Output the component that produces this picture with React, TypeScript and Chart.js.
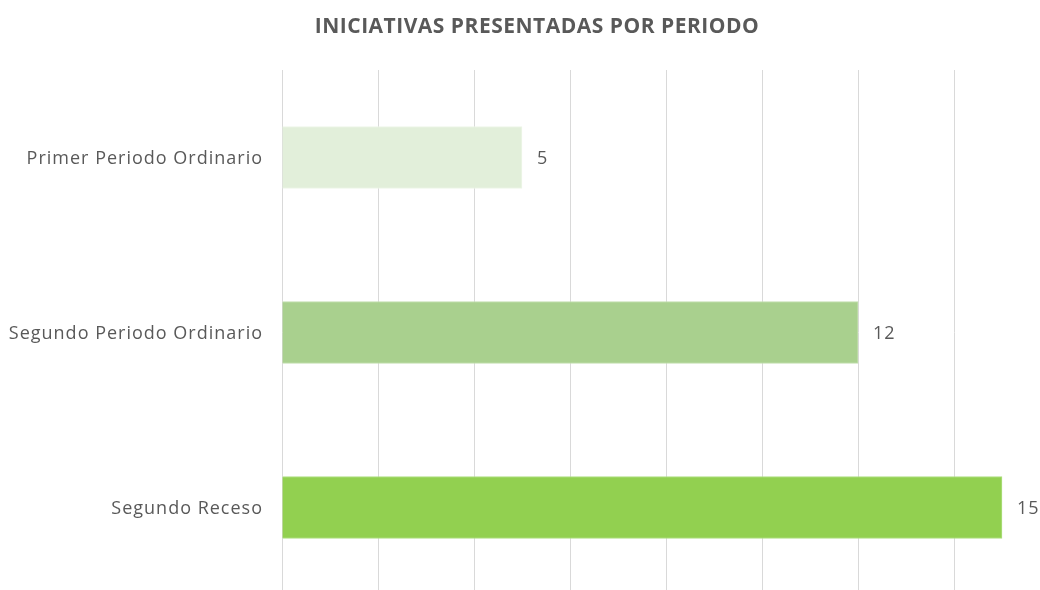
import React, { useEffect, useRef } from "react";
import { Chart, registerables } from "chart.js";

Chart.register(...registerables);

const categories = ["Primer Periodo Ordinario", "Segundo Periodo Ordinario", "Segundo Receso"];
const values = [5, 12, 15];
const barColors = ["#E2EFDA", "#A9D08E", "#92D050"];
const borderColors = ["#EEF6E9", "#C3DFB0", "#B0DF83"];
const chartTitle = "INICIATIVAS PRESENTADAS POR PERIODO";

const FONT = "'Open Sans', 'Noto Sans', sans-serif";
const TEXT = "#595959";

const overlayPlugin = {
  id: "overlay",
  afterDatasetsDraw(chart: any) {
    const ctx = chart.ctx;
    const meta = chart.getDatasetMeta(0);
    const yScale = chart.scales.y;
    ctx.save();
    ctx.fillStyle = TEXT;
    ctx.font = `18px ${FONT}`;
    (ctx as any).letterSpacing = "1px";
    ctx.textBaseline = "middle";
    ctx.textAlign = "left";
    meta.data.forEach((bar: any, i: number) => {
      ctx.fillText(String(values[i]), bar.x + 15, bar.y + 1);
    });
    ctx.textAlign = "right";
    categories.forEach((c, i) => {
      ctx.fillText(c, yScale.right - 19, yScale.getPixelForTick(i) + 1);
    });
    ctx.font = `bold 21px ${FONT}`;
    (ctx as any).letterSpacing = "0.5px";
    ctx.textAlign = "center";
    ctx.fillText(chartTitle, 537, 27);
    ctx.restore();
  },
};

export default function App() {
  const ref = useRef<HTMLCanvasElement | null>(null);
  useEffect(() => {
    if (!ref.current) return;
    const chart = new Chart(ref.current, {
      type: "bar",
      data: {
        labels: categories,
        datasets: [
          {
            data: values,
            backgroundColor: barColors,
            borderColor: borderColors,
            borderWidth: 1,
            barThickness: 62,
          },
        ],
      },
      options: {
        indexAxis: "y",
        animation: false,
        responsive: false,
        maintainAspectRatio: false,
        layout: { padding: { top: 70, bottom: 5, left: 0, right: 0 } },
        plugins: {
          legend: { display: false },
          title: { display: false },
          tooltip: { enabled: false },
        },
        scales: {
          x: {
            min: 0,
            max: (1040 - 282) / 48,
            ticks: { display: false, stepSize: 2, includeBounds: false },
            grid: { color: "#D9D9D9", lineWidth: 1, drawTicks: false },
            border: { display: false },
            afterFit(scale: any) {
              scale.height = 0;
            },
          },
          y: {
            grid: { display: false, drawTicks: false },
            border: { display: false },
            ticks: { display: false },
            afterFit(scale: any) {
              scale.width = 282;
            },
          },
        },
      },
      plugins: [overlayPlugin],
    });
    return () => chart.destroy();
  }, []);
  return (
    <div style={{ position: "fixed", left: 0, top: 0, width: 1040, height: 590, overflow: "hidden", background: "#fff" }}>
      <canvas ref={ref} width={1040} height={600} style={{ display: "block" }} />
    </div>
  );
}
